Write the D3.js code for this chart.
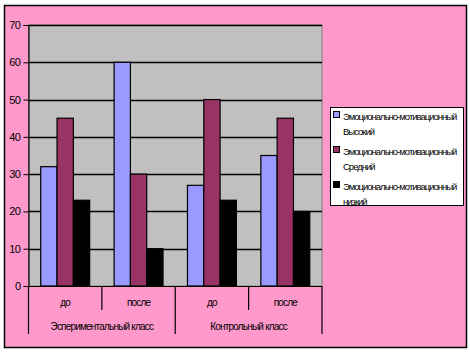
<!DOCTYPE html>
<html>
<head>
<meta charset="utf-8">
<script src="https://cdn.jsdelivr.net/npm/d3@7"></script>
<style>
body { margin: 0; background: white; }
text { font-family: "Liberation Sans", Arial, sans-serif; }
</style>
</head>
<body>
<div id="vizContainer"></div>
<script>
let w = 470;
let h = 352;

// data
let groups = ["Эспериментальный класс", "Контрольный класс"];
let categories = ["до", "после", "до", "после"];
let seriesNames = ["Эмоционально-мотивационный Высокий", "Эмоционально-мотивационный Средний", "Эмоционально-мотивационный низкий"];
let high = [32, 60, 27, 35];
let mid = [45, 30, 50, 45];
let low = [23, 10, 23, 20];
let yTicks = [0, 10, 20, 30, 40, 50, 60, 70];
let colors = ["#9999ff", "#993366", "#000000"];

let series = [high, mid, low];

let viz = d3.select("#vizContainer").append("svg")
	.attr("width", w)
	.attr("height", h)
	;

viz.append("rect")
	.attr("x", 4.5).attr("y", 5.5)
	.attr("width", 462).attr("height", 342)
	.attr("fill", "#ff99cc")
	.attr("stroke", "black")
	.attr("stroke-width", 1.5);

let plotL = 28.5, plotR = 322, plotT = 25, plotB = 286;

let xScale = d3.scaleBand().domain(d3.range(categories.length)).range([plotL, plotR]);
let innerScale = d3.scaleBand().domain(d3.range(series.length)).range([0, xScale.bandwidth()]).paddingOuter(0.75);
let yScale = d3.scaleLinear().domain([0, 70]).range([plotB, plotT]);

// plot area
viz.append("rect")
	.attr("x", plotL).attr("y", plotT)
	.attr("width", plotR - plotL).attr("height", plotB - plotT)
	.attr("fill", "#c0c0c0")
	.attr("stroke", "#808080")
	.attr("stroke-width", 1);

// gridlines
viz.append("g").selectAll("line").data(yTicks.filter(d => d > 0)).enter().append("line")
	.attr("x1", plotL).attr("x2", plotR)
	.attr("y1", d => Math.round(yScale(d)) + 0.5)
	.attr("y2", d => Math.round(yScale(d)) + 0.5)
	.attr("stroke", "black")
	.attr("stroke-width", 1.3);

// bars
let barGroup = viz.append("g");
series.forEach(function (vals, s) {
	barGroup.selectAll(".bar" + s).data(vals).enter().append("rect")
		.attr("class", "bar" + s)
		.attr("x", (d, i) => xScale(i) + innerScale(s))
		.attr("y", d => yScale(d))
		.attr("width", innerScale.bandwidth())
		.attr("height", d => plotB - yScale(d))
		.attr("fill", colors[s])
		.attr("stroke", "black")
		.attr("stroke-width", 1.2);
});

// y axis
let yAxis = viz.append("g")
	.attr("transform", "translate(" + plotL + ",0)")
	.call(d3.axisLeft(yScale).tickValues(yTicks).tickSize(5).tickPadding(3));
yAxis.select(".domain").attr("stroke", "black").attr("stroke-width", 1.2);
yAxis.selectAll("text").attr("font-size", 11).attr("fill", "black")
	.attr("font-family", "Liberation Sans, Arial, sans-serif")
	.attr("letter-spacing", -0.5);

// x axis line
viz.append("line")
	.attr("x1", plotL).attr("x2", plotR)
	.attr("y1", plotB + 0.5).attr("y2", plotB + 0.5)
	.attr("stroke", "black").attr("stroke-width", 1.2);

// category separators
let seps = viz.append("g");
d3.range(categories.length + 1).forEach(function (i) {
	let x = i < categories.length ? xScale(i) : plotR;
	let long = (i % 2 === 0);
	seps.append("line")
		.attr("x1", x).attr("x2", x)
		.attr("y1", plotB).attr("y2", long ? 334 : 310)
		.attr("stroke", "black").attr("stroke-width", 1.2);
});

viz.append("g").selectAll("text").data(categories).enter().append("text")
	.attr("x", (d, i) => xScale(i) + xScale.bandwidth() / 2)
	.attr("y", 306)
	.attr("text-anchor", "middle")
	.attr("font-size", 10)
	.attr("letter-spacing", -0.8)
	.text(d => d);

viz.append("g").selectAll("text").data(groups).enter().append("text")
	.attr("x", (d, i) => xScale(i * 2) + xScale.bandwidth())
	.attr("y", 330)
	.attr("text-anchor", "middle")
	.attr("font-size", 10)
	.attr("letter-spacing", -0.8)
	.text(d => d);

// legend
let legend = viz.append("g");
legend.append("rect")
	.attr("x", 330.5).attr("y", 107.5)
	.attr("width", 133).attr("height", 98)
	.attr("fill", "white")
	.attr("stroke", "black")
	.attr("stroke-width", 1);

seriesNames.forEach(function (name, s) {
	let y0 = 111 + s * 35;
	legend.append("rect")
		.attr("x", 333.5).attr("y", y0 + 0.5)
		.attr("width", 6).attr("height", 6)
		.attr("fill", colors[s])
		.attr("stroke", "black")
		.attr("stroke-width", 1);
	let parts = name.split(" ");
	parts.forEach(function (p, j) {
		legend.append("text")
			.attr("x", 343)
			.attr("y", y0 + 9 + j * 15)
			.attr("font-size", 9.5)
			.attr("letter-spacing", -1.0)
			.text(p);
	});
});
</script>
</body>
</html>
